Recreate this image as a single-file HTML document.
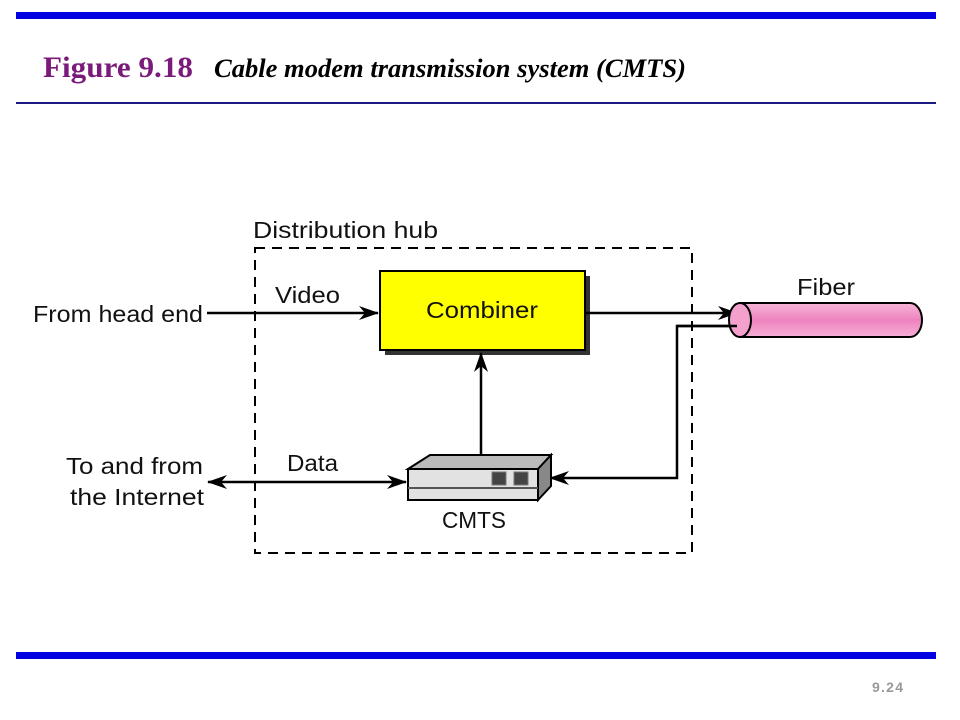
<!DOCTYPE html>
<html><head><style>body{margin:0;background:#fff}svg{display:block}</style></head><body>
<svg width="960" height="720" viewBox="0 0 960 720" xmlns="http://www.w3.org/2000/svg">
<defs>
<marker id="a" viewBox="0 0 20 14" refX="19" refY="7" markerWidth="20" markerHeight="14" markerUnits="userSpaceOnUse" orient="auto-start-reverse"><path d="M0,0 L20,7 L0,14 L6,7 Z" fill="#000"/></marker>
<linearGradient id="pk" x1="0" y1="0" x2="0" y2="1"><stop offset="0" stop-color="#f7b5d8"/><stop offset="0.5" stop-color="#ee82be"/><stop offset="1" stop-color="#f6b0d6"/></linearGradient>
</defs>
<rect x="16" y="12" width="920" height="7" fill="#0000e0"/>
<text x="43" y="77" font-family="Liberation Serif,serif" font-weight="bold" font-size="30" fill="#7a1a7a" textLength="150" lengthAdjust="spacingAndGlyphs">Figure 9.18</text>
<text x="214" y="77" font-family="Liberation Serif,serif" font-weight="bold" font-style="italic" font-size="26" fill="#000" textLength="472" lengthAdjust="spacingAndGlyphs">Cable modem transmission system (CMTS)</text>
<rect x="16" y="102" width="920" height="2" fill="#1a1a80"/>
<rect x="16" y="652" width="920" height="7" fill="#0000e0"/>
<text x="872" y="692" font-family="Liberation Sans,sans-serif" font-weight="bold" font-size="14" fill="#999" textLength="31">9.24</text>
<g font-family="Liberation Sans,sans-serif" font-size="23" fill="#111" lengthAdjust="spacingAndGlyphs">
<text x="253" y="238" textLength="185" lengthAdjust="spacingAndGlyphs">Distribution hub</text>
<text x="33" y="322" textLength="170" lengthAdjust="spacingAndGlyphs">From head end</text>
<text x="275" y="303" textLength="65" lengthAdjust="spacingAndGlyphs">Video</text>
<text x="287" y="471" textLength="51" lengthAdjust="spacingAndGlyphs">Data</text>
<text x="66" y="474" textLength="137" lengthAdjust="spacingAndGlyphs">To and from</text>
<text x="70" y="505" textLength="134" lengthAdjust="spacingAndGlyphs">the Internet</text>
<text x="442" y="528" textLength="64" lengthAdjust="spacingAndGlyphs">CMTS</text>
<text x="797" y="295" textLength="58" lengthAdjust="spacingAndGlyphs">Fiber</text>
</g>
<rect x="255" y="248" width="437" height="305" fill="none" stroke="#000" stroke-width="2" stroke-dasharray="10,7"/>
<rect x="385" y="276" width="205" height="79" fill="#333"/>
<rect x="380" y="271" width="205" height="79" fill="#ffff00" stroke="#000" stroke-width="2"/>
<text x="426" y="318" font-family="Liberation Sans,sans-serif" font-size="23" fill="#111" textLength="112" lengthAdjust="spacingAndGlyphs">Combiner</text>
<g stroke="#000" stroke-width="2.5" fill="none">
<line x1="207" y1="313" x2="378" y2="313" marker-end="url(#a)"/>
<line x1="585" y1="313" x2="737" y2="313" marker-end="url(#a)"/>
<polyline points="737,326 677,326 677,478 550,478" marker-end="url(#a)"/>
<line x1="481" y1="455" x2="481" y2="353" marker-end="url(#a)"/>
<line x1="208" y1="482" x2="406" y2="482" marker-start="url(#a)" marker-end="url(#a)"/>
</g>
<path d="M740,303 L910,303 A12,17 0 0 1 910,337 L740,337 Z" fill="url(#pk)" stroke="#000" stroke-width="2"/>
<ellipse cx="740" cy="320" rx="11" ry="17" fill="#f3a0cc" stroke="#000" stroke-width="2"/>
<line x1="677" y1="326" x2="737" y2="326" stroke="#000" stroke-width="2.5"/>
<polygon points="408,469 430,455 551,455 538,469" fill="#bbb" stroke="#000" stroke-width="2"/>
<polygon points="538,469 551,455 551,486 538,500" fill="#888" stroke="#000" stroke-width="2"/>
<rect x="408" y="469" width="130" height="31" fill="#e2e2e2" stroke="#000" stroke-width="2"/>
<line x1="408" y1="488" x2="538" y2="488" stroke="#555" stroke-width="2"/>
<rect x="492" y="472" width="14" height="13" fill="#444" stroke="#777"/>
<rect x="514" y="472" width="14" height="13" fill="#444" stroke="#777"/>
</svg>
</body></html>
